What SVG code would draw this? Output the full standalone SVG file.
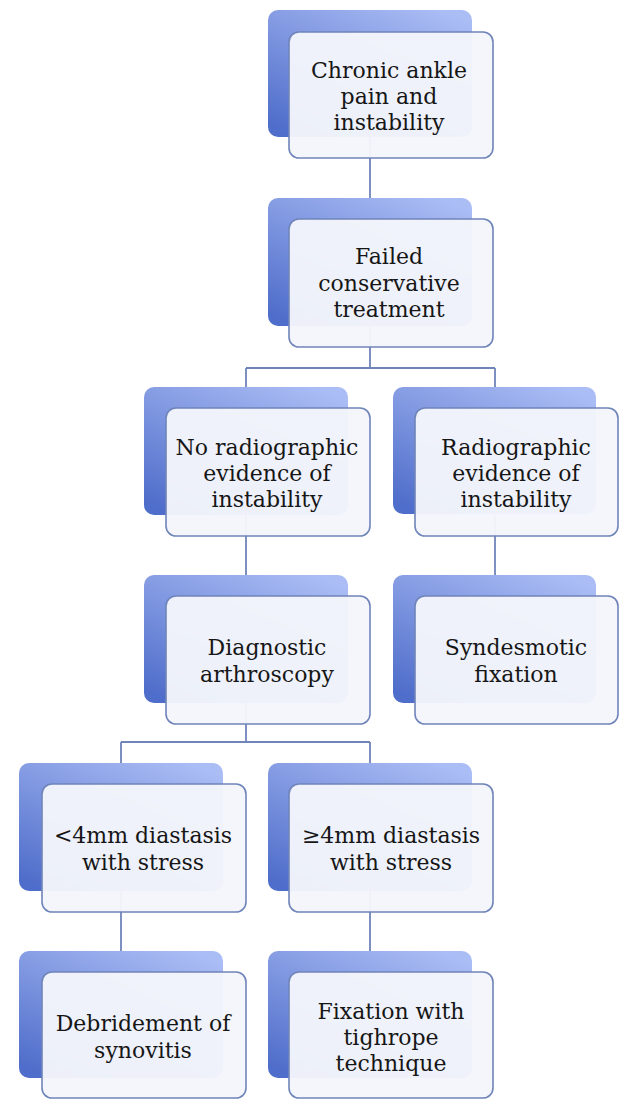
<svg xmlns="http://www.w3.org/2000/svg" width="620" height="1099" viewBox="0 0 620 1099">
  <defs>
    <linearGradient id="backGrad" x1="0.85" y1="0" x2="0.15" y2="1">
      <stop offset="0" stop-color="#abbdf5"/>
      <stop offset="0.5" stop-color="#7e96e0"/>
      <stop offset="1" stop-color="#4f6dca"/>
    </linearGradient>
    <style>
      .back { fill: url(#backGrad); }
      .front { fill: #f4f6fb; fill-opacity: 0.96; stroke: #6f84b9; stroke-width: 1.6; }
      .conn { stroke: #6f84b9; stroke-width: 1.8; fill: none; }
      .lbl { font-family: "DejaVu Serif", "Liberation Serif", serif; font-size: 22px; fill: #161616; text-anchor: middle; }
    </style>
  </defs>
  <rect width="620" height="1099" fill="#ffffff"/>

  <g id="connectors">
    <path class="conn" d="M370,137 V198"/>
    <path class="conn" d="M370,326 V368 M246,368 H495 M246,368 V387 M495,368 V387"/>
    <path class="conn" d="M246,515 V575"/>
    <path class="conn" d="M495,515 V575"/>
    <path class="conn" d="M246,703 V742 M121,742 H370 M121,742 V763 M370,742 V763"/>
    <path class="conn" d="M121,891 V951"/>
    <path class="conn" d="M370,891 V951"/>
  </g>

  <g id="n1">
    <rect class="back" x="268" y="10" width="204" height="127" rx="10"/>
    <rect class="front" x="289" y="32" width="204" height="126" rx="10"/>
    <text class="lbl" x="389" y="78">Chronic ankle</text>
    <text class="lbl" x="389" y="104">pain and</text>
    <text class="lbl" x="389" y="130">instability</text>
  </g>

  <g id="n2">
    <rect class="back" x="268" y="198" width="204" height="128" rx="10"/>
    <rect class="front" x="289" y="219" width="204" height="128" rx="10"/>
    <text class="lbl" x="389" y="264">Failed</text>
    <text class="lbl" x="389" y="291">conservative</text>
    <text class="lbl" x="389" y="317">treatment</text>
  </g>

  <g id="n3">
    <rect class="back" x="144" y="387" width="204" height="128" rx="10"/>
    <rect class="front" x="166" y="408" width="204" height="128" rx="10"/>
    <text class="lbl" x="267" y="455">No radiographic</text>
    <text class="lbl" x="267" y="481">evidence of</text>
    <text class="lbl" x="267" y="507">instability</text>
  </g>

  <g id="n4">
    <rect class="back" x="393" y="387" width="203" height="127" rx="10"/>
    <rect class="front" x="415" y="408" width="203" height="128" rx="10"/>
    <text class="lbl" x="516" y="455">Radiographic</text>
    <text class="lbl" x="516" y="481">evidence of</text>
    <text class="lbl" x="516" y="507">instability</text>
  </g>

  <g id="n5">
    <rect class="back" x="144" y="575" width="204" height="128" rx="10"/>
    <rect class="front" x="166" y="596" width="204" height="128" rx="10"/>
    <text class="lbl" x="267" y="655">Diagnostic</text>
    <text class="lbl" x="267" y="682">arthroscopy</text>
  </g>

  <g id="n6">
    <rect class="back" x="393" y="575" width="203" height="128" rx="10"/>
    <rect class="front" x="415" y="596" width="203" height="128" rx="10"/>
    <text class="lbl" x="516" y="655">Syndesmotic</text>
    <text class="lbl" x="516" y="682">fixation</text>
  </g>

  <g id="n7">
    <rect class="back" x="19" y="763" width="204" height="128" rx="10"/>
    <rect class="front" x="42" y="784" width="204" height="128" rx="10"/>
    <text class="lbl" x="143" y="843">&lt;4mm diastasis</text>
    <text class="lbl" x="143" y="870">with stress</text>
  </g>

  <g id="n8">
    <rect class="back" x="268" y="763" width="204" height="128" rx="10"/>
    <rect class="front" x="289" y="784" width="204" height="128" rx="10"/>
    <text class="lbl" x="391" y="843">≥4mm diastasis</text>
    <text class="lbl" x="391" y="870">with stress</text>
  </g>

  <g id="n9">
    <rect class="back" x="19" y="951" width="204" height="127" rx="10"/>
    <rect class="front" x="42" y="972" width="204" height="126" rx="10"/>
    <text class="lbl" x="143" y="1031">Debridement of</text>
    <text class="lbl" x="143" y="1058">synovitis</text>
  </g>

  <g id="n10">
    <rect class="back" x="268" y="951" width="204" height="127" rx="10"/>
    <rect class="front" x="289" y="972" width="204" height="126" rx="10"/>
    <text class="lbl" x="391" y="1019">Fixation with</text>
    <text class="lbl" x="391" y="1045">tighrope</text>
    <text class="lbl" x="391" y="1071">technique</text>
  </g>
</svg>
